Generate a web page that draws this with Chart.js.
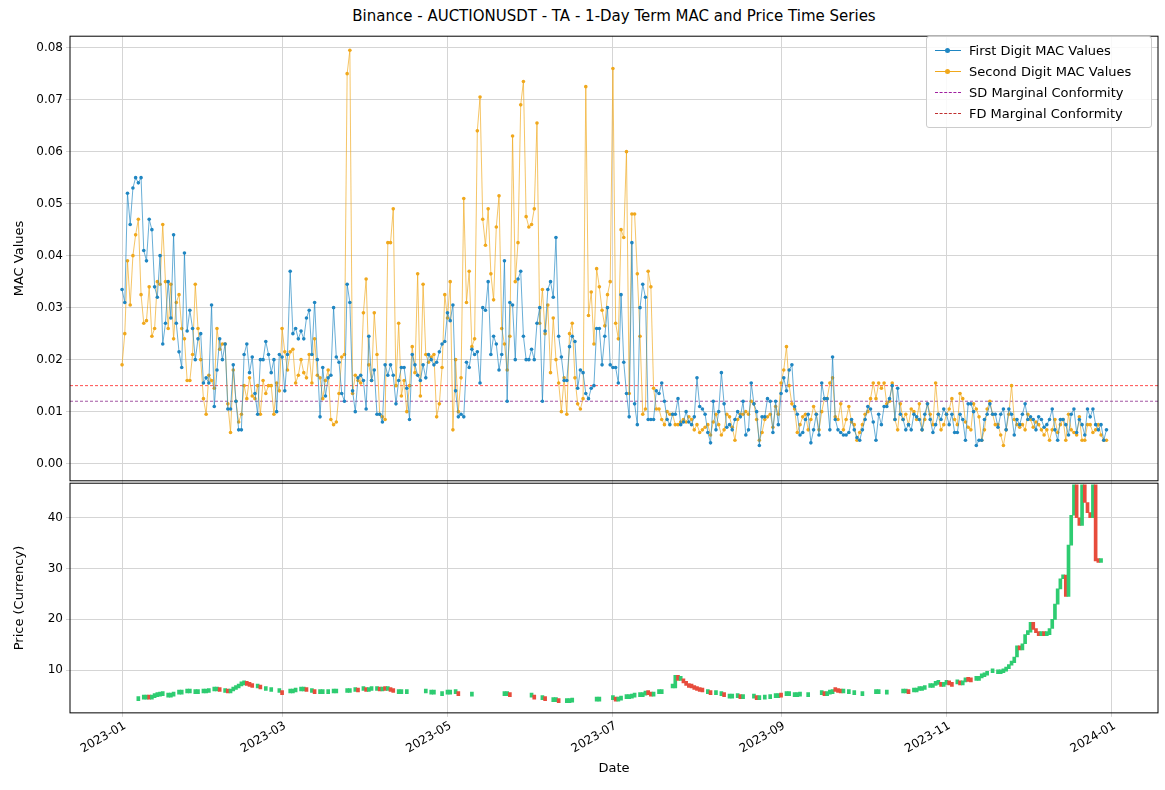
<!DOCTYPE html>
<html>
<head>
<meta charset="utf-8">
<script src="https://cdn.jsdelivr.net/npm/chart.js@4.4.0/dist/chart.umd.min.js"></script>
<style>
body { margin: 0; background: #fff; font-family: 'DejaVu Sans', sans-serif; }
#wrap { position: relative; width: 1165px; height: 790px; }
#title { position: absolute; top: 7px; left: 70px; width: 1088px; text-align: center; font-size: 15px; color: #000; }
#top { position: absolute; left: 0; top: 26px; width: 1165px; height: 465px; }
#bottom { position: absolute; left: 0; top: 473px; width: 1165px; height: 317px; }
#legend { position: absolute; left: 926px; top: 36px; width: 224px; padding: 3px 0; background: rgba(255,255,255,0.85);
  border: 1px solid #ccc; border-radius: 3px; font-size: 13px; }
#legend div { height: 21px; line-height: 21px; position: relative; padding-left: 42px; }
#legend .ln { position: absolute; left: 8px; top: 10px; width: 26px; }
#legend .pt { position: absolute; left: 18px; top: 8px; width: 5px; height: 5px; border-radius: 50%; }
</style>
</head>
<body>
<div id="wrap">
  <div id="title">Binance - AUCTIONUSDT - TA - 1-Day Term MAC and Price Time Series</div>
  <div id="top"><canvas id="macChart"></canvas></div>
  <div id="bottom"><canvas id="priceChart"></canvas></div>
  <div id="legend">
    <div><span class="ln" style="border-top:1px solid #1f86c2"></span><span class="pt" style="background:#1f86c2"></span>First Digit MAC Values</div>
    <div><span class="ln" style="border-top:1px solid #f0a81c"></span><span class="pt" style="background:#f0a81c"></span>Second Digit MAC Values</div>
    <div><span class="ln" style="border-top:1px dashed #a020a0"></span>SD Marginal Conformity</div>
    <div><span class="ln" style="border-top:1px dashed #c03030"></span>FD Marginal Conformity</div>
  </div>
</div>
<script>
// Day index 0 = 2023-01-01
const TICK_DAYS = [0, 59, 120, 181, 243, 304, 365];
const TICK_LABELS = ['2023-01', '2023-03', '2023-05', '2023-07', '2023-09', '2023-11', '2024-01'];

const FD_MARGINAL = 0.015;
const SD_MARGINAL = 0.012;

const fdMac = [
  // Jan
  0.0335, 0.031, 0.052, 0.046, 0.053, 0.055, 0.054, 0.055, 0.041, 0.039, 0.047, 0.045, 0.034, 0.032, 0.040, 0.023, 0.027, 0.035, 0.028, 0.044, 0.027, 0.0215, 0.0185, 0.0405, 0.0255, 0.0295, 0.026, 0.020, 0.024, 0.025, 0.0155,
  // Feb
  0.0165, 0.0155, 0.0305, 0.011, 0.018, 0.024, 0.020, 0.023, 0.0105, 0.0105, 0.019, 0.012, 0.0065, 0.0065, 0.021, 0.023, 0.0175, 0.0205, 0.0135, 0.0095, 0.020,
  0.020, 0.0235, 0.021, 0.0175, 0.020, 0.010, 0.021,
  // Mar
  0.0205, 0.014, 0.021, 0.037, 0.025, 0.026, 0.024, 0.0255, 0.024,
  0.028, 0.0295, 0.021, 0.031, 0.020, 0.009, 0.0185, 0.013, 0.0165, 0.017, 0.030, 0.0205, 0.0195, 0.0135, 0.012, 0.0345, 0.031, 0.014, 0.010, 0.0165, 0.017, 0.016,
  // Apr
  0.0105, 0.0245, 0.016, 0.018, 0.0095, 0.0095, 0.008, 0.019, 0.017,
  0.019, 0.017, 0.0115, 0.016, 0.0185, 0.0185, 0.0145, 0.0085, 0.021, 0.019, 0.017, 0.016, 0.019, 0.0165, 0.021, 0.020, 0.019, 0.0195, 0.0215, 0.023, 0.0235,
  // May
  0.029, 0.0275, 0.0305, 0.014, 0.009, 0.0095, 0.009, 0.0195, 0.0185, 0.022, 0.021, 0.0215, 0.0155, 0.030, 0.0295, 0.035, 0.021, 0.0245, 0.023, 0.018, 0.021, 0.039, 0.012, 0.031, 0.0305, 0.020, 0.0355, 0.037, 0.0245, 0.020, 0.020,
  // Jun
  0.022, 0.020, 0.027, 0.030, 0.012, 0.0255, 0.0335, 0.035, 0.032, 0.0435, 0.0245, 0.0205, 0.016, 0.016, 0.0225, 0.0245, 0.0235, 0.0145, 0.018, 0.0175, 0.0135, 0.0125, 0.0145, 0.015, 0.026, 0.026, 0.019, 0.0245, 0.030, 0.019,
  // Jul
  0.0185, 0.0185, 0.0155, 0.0325, 0.0195, 0.0135, 0.009, 0.0425, 0.0115, 0.0075, 0.030, 0.0345, 0.032, 0.0085, 0.0085, 0.0085, 0.014, 0.0135, 0.0155, 0.012, 0.0085, 0.0075, 0.0095, 0.0095, 0.0125, 0.0075, 0.008, 0.010, 0.008, 0.0075, 0.009,
  // Aug
  0.0165, 0.011, 0.0105, 0.0095, 0.006, 0.004, 0.012, 0.0065, 0.010, 0.0175, 0.0115, 0.007, 0.0075, 0.0065, 0.0085, 0.010, 0.009, 0.012, 0.0055, 0.0065, 0.0155, 0.0115, 0.010, 0.0035, 0.009, 0.009, 0.0125, 0.012, 0.006, 0.012, 0.0075,
  // Sep
  0.0135, 0.0165, 0.014, 0.018, 0.019, 0.011, 0.0095, 0.0055, 0.006, 0.0085, 0.0095, 0.004, 0.0065, 0.0095, 0.0055, 0.0155, 0.0125, 0.0125, 0.0065, 0.0205, 0.0085, 0.0065, 0.006, 0.0055, 0.0055, 0.006, 0.0085, 0.0065, 0.005, 0.0045,
  // Oct
  0.0065, 0.0085, 0.011, 0.0105, 0.008, 0.0045, 0.0095, 0.0075, 0.011, 0.011, 0.0125, 0.015, 0.0085, 0.0145, 0.0095, 0.0085, 0.0065, 0.0075, 0.0065, 0.0095, 0.009, 0.0085, 0.0065, 0.0095, 0.0115, 0.0085, 0.006, 0.0075, 0.0095, 0.0085, 0.0105,
  // Nov
  0.0095, 0.0075, 0.0095, 0.006, 0.006, 0.0095, 0.0085, 0.0045, 0.0115, 0.0115, 0.010, 0.0035, 0.0045, 0.0045, 0.0085, 0.0095, 0.0115, 0.0095, 0.0095, 0.007, 0.0095, 0.0105, 0.0065, 0.0105, 0.0095, 0.0055, 0.0085, 0.0075, 0.0095, 0.0115,
  // Dec
  0.0085, 0.009, 0.0085, 0.0065, 0.009, 0.0085, 0.007, 0.0075, 0.0085, 0.0105, 0.0065, 0.0045, 0.0085, 0.0085, 0.0075, 0.0055, 0.0095, 0.0105, 0.006, 0.0085, 0.0075, 0.0055, 0.0105, 0.009, 0.0105, 0.0075, 0.0065, 0.0075, 0.0045, 0.0065
];

const sdMac = [
  // Jan
  0.019, 0.025, 0.039, 0.0305, 0.040, 0.044, 0.047, 0.0325, 0.027, 0.0275, 0.034, 0.0245, 0.026, 0.035, 0.0345, 0.046, 0.035, 0.026, 0.0345, 0.024, 0.031, 0.0325, 0.026, 0.024, 0.016, 0.016, 0.021, 0.0345, 0.026, 0.020, 0.0125,
  // Feb
  0.0095, 0.017, 0.016, 0.0145, 0.026, 0.022, 0.023, 0.023, 0.0115, 0.006, 0.018, 0.012, 0.008, 0.0095, 0.015, 0.0125, 0.0165, 0.013, 0.0125, 0.015, 0.0095,
  0.016, 0.0135, 0.015, 0.015, 0.0095, 0.0155, 0.014,
  // Mar
  0.026, 0.0215, 0.018, 0.0215, 0.022, 0.0155, 0.017, 0.020, 0.0175,
  0.0165, 0.021, 0.0155, 0.024, 0.017, 0.0165, 0.0125, 0.016, 0.018, 0.0085, 0.0075, 0.008, 0.0135, 0.0205, 0.021, 0.075, 0.0795, 0.0135, 0.017, 0.016, 0.0155, 0.029,
  // Apr
  0.0355, 0.019, 0.016, 0.029, 0.021, 0.0095, 0.009, 0.0085, 0.0425,
  0.0425, 0.049, 0.015, 0.027, 0.013, 0.016, 0.010, 0.015, 0.0225, 0.0175, 0.0365, 0.013, 0.0345, 0.021, 0.0195, 0.0205, 0.021, 0.009, 0.0115, 0.0185, 0.0325,
  // May
  0.028, 0.035, 0.0065, 0.020, 0.010, 0.0165, 0.051, 0.031, 0.037, 0.0225, 0.024, 0.064, 0.0705, 0.047, 0.042, 0.049, 0.0365, 0.0315, 0.0455, 0.0515, 0.026, 0.023, 0.018, 0.0245, 0.063, 0.035, 0.0425, 0.069, 0.0735, 0.0475, 0.0455,
  // Jun
  0.046, 0.049, 0.0655, 0.027, 0.0335, 0.025, 0.0305, 0.0175, 0.028, 0.020, 0.0155, 0.010, 0.0165, 0.0095, 0.025, 0.027, 0.0165, 0.0115, 0.0105, 0.0125, 0.0725, 0.0285, 0.033, 0.023, 0.0375, 0.034, 0.0295, 0.0265, 0.0325, 0.035,
  // Jul
  0.076, 0.027, 0.024, 0.045, 0.0435, 0.060, 0.0135, 0.048, 0.048, 0.0365, 0.0245, 0.0095, 0.0105, 0.037, 0.034, 0.0145, 0.0105, 0.0105, 0.0085, 0.0075, 0.010, 0.0095, 0.0095, 0.0075, 0.0075, 0.008, 0.0085, 0.008, 0.009, 0.0085, 0.0065,
  // Aug
  0.0075, 0.006, 0.0065, 0.007, 0.0075, 0.0055, 0.008, 0.0095, 0.0075, 0.0055, 0.0065, 0.0095, 0.009, 0.007, 0.0045, 0.0085, 0.0095, 0.0095, 0.010, 0.0095, 0.012, 0.0115, 0.0085, 0.0045, 0.006, 0.0085, 0.009, 0.0095, 0.007, 0.011, 0.0095,
  // Sep
  0.0155, 0.018, 0.0225, 0.015, 0.0115, 0.0105, 0.006, 0.0075, 0.009, 0.0095, 0.0065, 0.0085, 0.011, 0.0095, 0.0065, 0.010, 0.0125, 0.0125, 0.0155, 0.0165, 0.009, 0.0085, 0.0115, 0.0065, 0.0085, 0.011, 0.008, 0.0075, 0.0045, 0.006,
  // Oct
  0.0075, 0.0095, 0.010, 0.0125, 0.0155, 0.0125, 0.0155, 0.0145, 0.0155, 0.0115, 0.012, 0.0155, 0.0085, 0.0065, 0.0115, 0.0085, 0.0095, 0.0075, 0.0105, 0.010, 0.0085, 0.0115, 0.0065, 0.0085, 0.0115, 0.0095, 0.0075, 0.0155, 0.0095, 0.0065, 0.0075,
  // Nov
  0.0095, 0.0105, 0.0125, 0.0085, 0.0075, 0.0135, 0.0125, 0.008, 0.007, 0.0065, 0.0115, 0.0105, 0.009, 0.0045, 0.0065, 0.0105, 0.012, 0.0095, 0.0075, 0.0075, 0.0055, 0.0035, 0.0065, 0.0095, 0.015, 0.0085, 0.0075, 0.007, 0.0075, 0.0065,
  // Dec
  0.0095, 0.0085, 0.007, 0.008, 0.0075, 0.0065, 0.0055, 0.0065, 0.0045, 0.0065, 0.0085, 0.006, 0.0075, 0.0085, 0.0045, 0.0095, 0.0065, 0.006, 0.0055, 0.009, 0.0045, 0.0045, 0.0075, 0.0075, 0.006, 0.0065, 0.0075, 0.0055, 0.0045, 0.0045
];

// Daily close price, null = no candle
const priceClose = [
  // Jan
  null, null, null, null, null, null, 4.0, null, 4.3, 4.4, 4.3, 4.6, 4.8, 4.9, 5.0, 5.0, null, 4.7, 4.9, 5.1, null, 5.3, 5.3, null, 5.5, 5.6, null, 5.4, 5.5, null, 5.5,
  // Feb
  5.6, 5.8, null, 5.9, 6.1, 5.8, null, 5.6, 5.5, 5.9, 6.2, 6.5, 6.9, 7.1, 7.2, 7.0, 6.8, 6.6, null, 6.5, 6.3, null, 6.0, null, 5.8, null, null, 5.6,
  // Mar
  5.2, null, null, 5.5, 5.7, 5.7, null, 5.9, 6.0, 5.8, null, 5.6, 5.4, null, 5.4, 5.5, null, 5.4, null, 5.5, 5.6, null, null, null, 5.6, 5.8, null, 5.8, 5.7, null, 6.0,
  // Apr
  5.8, 6.0, 6.0, null, 6.0, 5.9, 6.1, 6.0, 6.0, 5.8, 5.6, null, 5.4, 5.5, null, 5.4, null, null, null, null, null, null, 5.5, null, 5.3, 5.4, null, null, 5.0, null,
  // May
  5.3, 5.5, null, 5.4, 5.0, null, null, null, null, 4.9, null, null, null, null, null, null, null, null, null, null, null, 5.0, 5.2, 4.8, null, null, null, null, null, null, null,
  // Jun
  4.7, 4.3, null, null, 4.2, 4.0, null, null, 3.8, 3.9, 3.6, null, null, 3.6, 3.7, 3.9, null, null, null, null, null, null, null, null, 3.9, 4.0, null, null, null, null,
  // Jul
  4.2, 3.9, 4.1, 4.2, null, 4.4, 4.5, 4.7, 4.9, null, 4.8, 5.1, 5.4, 5.2, 4.9, 5.0, null, 5.4, 5.6, null, null, null, 6.5, 9.0, 8.0, 8.2, 7.5, 7.0, 6.6, 6.5, 6.2,
  // Aug
  6.0, 5.8, 5.7, null, 5.4, 5.2, null, 5.2, null, 5.0, 4.8, null, 4.5, 4.5, null, 4.6, 4.4, 4.4, null, null, null, 4.5, 4.2, 4.5, null, 4.3, null, 4.4, null, 4.6, 4.8,
  // Sep
  4.7, null, 5.0, 5.1, null, 4.8, 4.9, 5.2, null, null, 4.8, null, null, null, null, 5.2, 5.0, 5.3, 5.4, 6.0, 5.8, 5.6, 5.5, 5.5, null, 5.4, null, 5.2, null, null,
  // Oct
  5.0, null, null, null, null, 5.4, 5.5, null, null, 5.3, null, null, null, null, null, 5.5, 5.6, 5.4, null, 5.7, 6.0, 6.0, 6.2, 6.8, null, 6.6, 7.0, 7.2, 7.3, 6.8, 7.2,
  // Nov
  7.4, 7.1, 6.8, null, 7.3, 7.1, 7.7, 8.2, 7.8, 7.7, null, 8.0, 8.5, 8.7, 9.0, 9.4, null, 9.5, null, 9.3, 9.5, 9.8, 10.3, 11.0, 11.5, 12.6, 14.8, 14.0, 15.2, 17.0,
  // Dec
  17.5, 19.4, 18.0, 17.4, 16.8, 17.4, 16.8, 17.0, 18.2, 20.0, 23.0, 26.0, 28.0, 28.7, 24.5, 34.6, 40.5, 46.5, 40.0, 38.5, 46.5, 43.0, 41.0, 40.0, 46.5, 31.5, 31.2, 31.8, null, null, null
];

const X_MIN = -19.2, X_MAX = 382;
const GRID = '#d5d5d5';
const FONT = { family: "'DejaVu Sans', sans-serif", size: 12 };
Chart.defaults.color = '#000';
Chart.defaults.font.family = FONT.family;

const frame = {
  id: 'frame',
  afterDraw(chart) {
    const a = chart.chartArea, c = chart.ctx;
    c.save(); c.strokeStyle = '#000'; c.lineWidth = 1;
    c.strokeRect(a.left, a.top, a.right - a.left, a.bottom - a.top);
    c.restore();
  }
};

// rotated date labels, right end anchored at the tick (matplotlib style)
const dateLabels = {
  id: 'dateLabels',
  afterDraw(chart) {
    const s = chart.scales.x, c = chart.ctx;
    c.save();
    c.font = '12px ' + FONT.family;
    c.fillStyle = '#000';
    c.textAlign = 'right';
    c.textBaseline = 'middle';
    TICK_DAYS.forEach((d, i) => {
      c.save();
      c.translate(s.getPixelForValue(d) + 3, chart.chartArea.bottom + 12);
      c.rotate(-Math.PI / 6);
      c.fillText(TICK_LABELS[i], 0, 0);
      c.restore();
    });
    c.restore();
  }
};

function xScale(showLabels) {
  return {
    type: 'linear', min: X_MIN, max: X_MAX, offset: false,
    afterBuildTicks: s => { s.ticks = TICK_DAYS.map(v => ({ value: v })); },
    grid: { color: GRID, drawTicks: true, tickLength: 4, offset: false },
    border: { display: false },
    ticks: {
      display: showLabels, color: 'rgba(0,0,0,0)', font: FONT, minRotation: 30, maxRotation: 30, autoSkip: false,
      callback: v => TICK_LABELS[TICK_DAYS.indexOf(v)]
    },
    title: { display: showLabels, text: 'Date', font: { ...FONT, size: 13 }, padding: { top: 0 } }
  };
}
const fixWidth = s => { s.width = 60; };

const fdPts = fdMac.map((v, i) => ({ x: i, y: v }));
const sdPts = sdMac.map((v, i) => ({ x: i, y: v }));

new Chart(document.getElementById('macChart'), {
  type: 'line',
  data: {
    datasets: [
      { data: fdPts, borderColor: 'rgba(31,134,194,0.75)', backgroundColor: '#1f86c2', borderWidth: 0.9, pointRadius: 1.8, pointBorderWidth: 0, tension: 0 },
      { data: sdPts, borderColor: 'rgba(240,168,28,0.75)', backgroundColor: '#f0a81c', borderWidth: 0.9, pointRadius: 1.8, pointBorderWidth: 0, tension: 0 },
      { data: [{ x: X_MIN, y: SD_MARGINAL }, { x: X_MAX, y: SD_MARGINAL }], borderColor: '#8a2a8a', borderWidth: 0.8, borderDash: [3, 2], pointRadius: 0 },
      { data: [{ x: X_MIN, y: FD_MARGINAL }, { x: X_MAX, y: FD_MARGINAL }], borderColor: '#ff2020', borderWidth: 0.8, borderDash: [3, 2], pointRadius: 0 }
    ]
  },
  options: {
    responsive: true, maintainAspectRatio: false, animation: false,
    layout: { padding: { left: 10, right: 7, top: 6, bottom: 0 } },
    plugins: { legend: { display: false }, tooltip: { enabled: false } },
    scales: {
      x: { ...xScale(false), title: { display: false } },
      y: {
        min: -0.0033, max: 0.0822, afterFit: fixWidth,
        afterBuildTicks: s => { s.ticks = [0, 0.01, 0.02, 0.03, 0.04, 0.05, 0.06, 0.07, 0.08].map(v => ({ value: v })); },
        grid: { color: GRID, tickLength: 4 }, border: { display: false },
        ticks: { font: FONT, callback: v => v.toFixed(2) },
        title: { display: true, text: 'MAC Values', font: { ...FONT, size: 13 }, padding: 2 }
      }
    }
  },
  plugins: [frame]
});

const candles = [];
const candleColors = [];
priceClose.forEach((c, i) => {
  if (c === null) return;
  const prev = priceClose[i - 1];
  const open = (prev === null || prev === undefined) ? c : prev;
  candles.push({ x: i, y: [open, c] });
  candleColors.push(c >= open ? '#2ecc71' : '#e74c3c');
});

new Chart(document.getElementById('priceChart'), {
  type: 'bar',
  data: { datasets: [{ data: candles, backgroundColor: candleColors, barThickness: 3, minBarLength: 4, grouped: false }] },
  options: {
    responsive: true, maintainAspectRatio: false, animation: false,
    layout: { padding: { left: 10, right: 7, top: 6, bottom: 10 } },
    plugins: { legend: { display: false }, tooltip: { enabled: false } },
    scales: {
      x: xScale(true),
      y: {
        min: 1.6, max: 46.8, afterFit: fixWidth,
        afterBuildTicks: s => { s.ticks = [10, 20, 30, 40].map(v => ({ value: v })); },
        grid: { color: GRID, tickLength: 4 }, border: { display: false },
        ticks: { font: FONT },
        title: { display: true, text: 'Price (Currency)', font: { ...FONT, size: 13 }, padding: 2 }
      }
    }
  },
  plugins: [frame, dateLabels]
});
</script>
</body>
</html>
